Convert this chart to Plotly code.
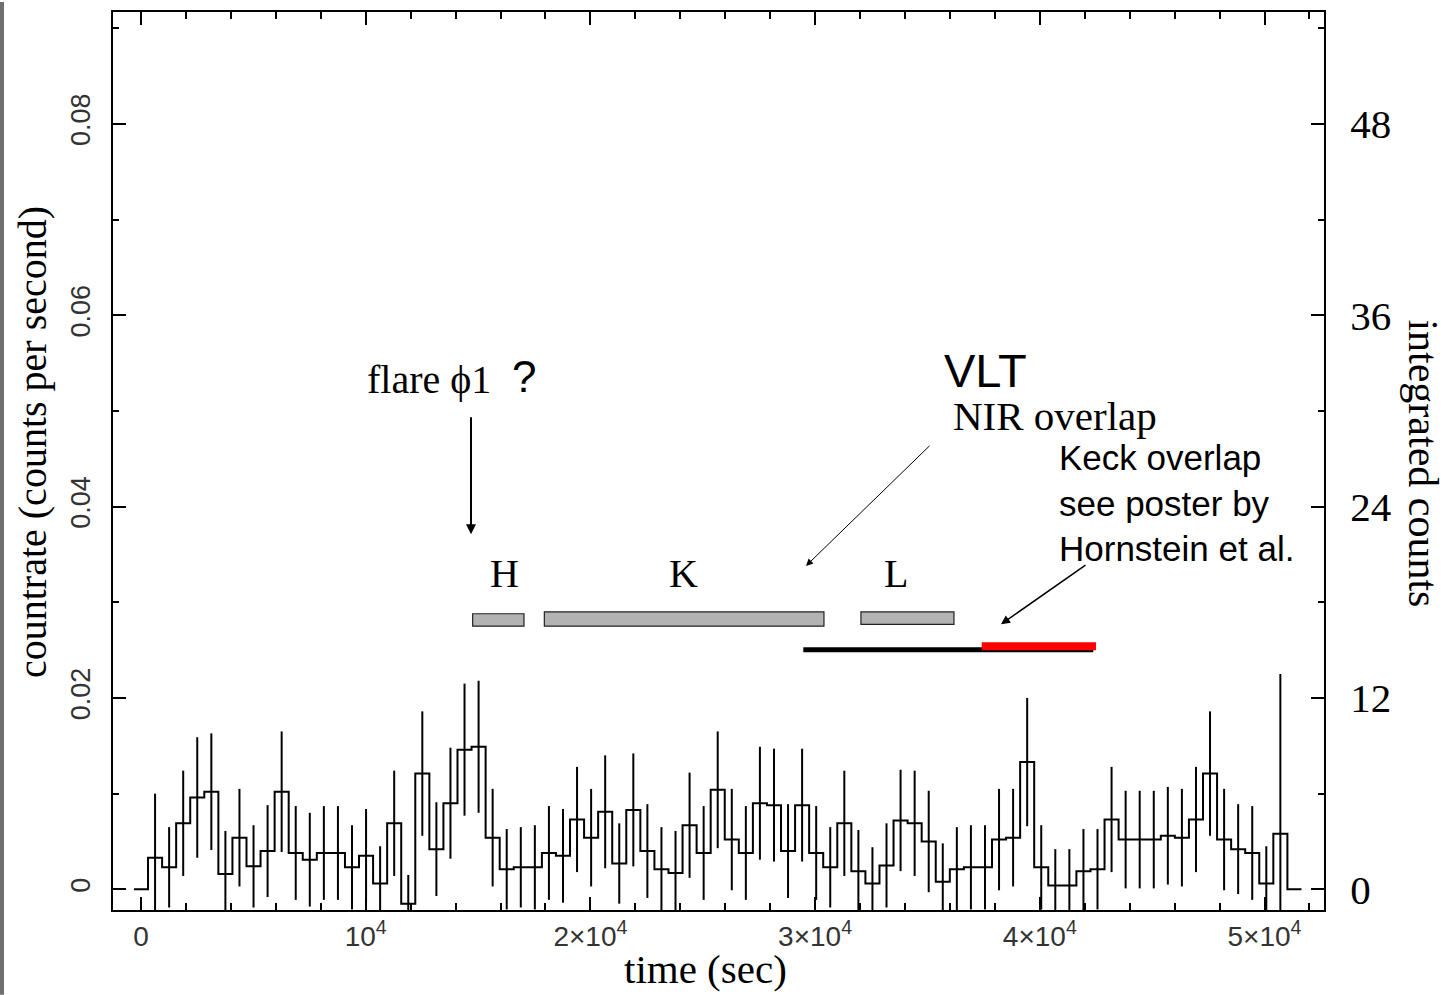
import numpy as np
import plotly.graph_objects as go

# ---- light curve: count rate per time bin (bin width 626 s) ----
bin_width = 626.0
countrate = [
    0.0000, 0.0033, 0.0023, 0.0069, 0.0096, 0.0102, 0.0016, 0.0054, 0.0024, 0.0040,
    0.0102, 0.0038, 0.0031, 0.0038, 0.0038, 0.0023, 0.0035, 0.0006, 0.0069, -0.0015,
    0.0121, 0.0042, 0.0090, 0.0146, 0.0149, 0.0054, 0.0021, 0.0023, 0.0023, 0.0038,
    0.0035, 0.0073, 0.0054, 0.0081, 0.0027, 0.0083, 0.0040, 0.0021, 0.0017, 0.0067,
    0.0038, 0.0104, 0.0052, 0.0038, 0.0090, 0.0088, 0.0040, 0.0088, 0.0038, 0.0023,
    0.0069, 0.0019, 0.0006, 0.0025, 0.0072, 0.0069, 0.0050, 0.0008, 0.0021, 0.0023,
    0.0023, 0.0052, 0.0054, 0.0133, 0.0023, 0.0004, 0.0004, 0.0019, 0.0021, 0.0073,
    0.0052, 0.0052, 0.0052, 0.0056, 0.0054, 0.0073, 0.0121, 0.0052, 0.0042, 0.0038,
    0.0006, 0.0058, 0.0000,
]
rate_err = [
    0.0, 0.0067, 0.0042, 0.0055, 0.0063, 0.0061, 0.0045, 0.0051, 0.0043, 0.0048,
    0.0063, 0.0049, 0.0049, 0.0049, 0.0049, 0.0044, 0.0049, 0.0039, 0.0055, 0.0030,
    0.0065, 0.0049, 0.0058, 0.0069, 0.0069, 0.0051, 0.0042, 0.0042, 0.0044, 0.0049,
    0.0049, 0.0055, 0.0051, 0.0059, 0.0042, 0.0059, 0.0049, 0.0044, 0.0044, 0.0055,
    0.0049, 0.0061, 0.0053, 0.0049, 0.0059, 0.0059, 0.0049, 0.0059, 0.0049, 0.0042,
    0.0055, 0.0043, 0.0038, 0.0044, 0.0053, 0.0055, 0.0053, 0.0040, 0.0044, 0.0044,
    0.0044, 0.0053, 0.0051, 0.0067, 0.0044, 0.0038, 0.0038, 0.0044, 0.0042, 0.0055,
    0.0051, 0.0051, 0.0051, 0.0051, 0.0051, 0.0055, 0.0065, 0.0053, 0.0047, 0.0049,
    0.0039, 0.0167, 0.0,
]
t_center = np.arange(len(countrate)) * bin_width

# ---- NIR observing windows (seconds) ----
band_names = ["H", "K", "L"]
band_start = [14760, 17950, 32040]
band_end = [17045, 30395, 36180]
band_low = [0.0275, 0.0275, 0.0277]
band_high = [0.0288, 0.0290, 0.0290]
band_label_x = [16180, 24140, 33620]

# ---- overlap intervals ----
vlt_overlap = [29475, 42380]
keck_overlap = [37415, 42500]

# ---- axis ticks ----
x_ticks = [0, 10000, 20000, 30000, 40000, 50000]
x_ticktext = ["0", "10<sup>4</sup>", "2×10<sup>4</sup>", "3×10<sup>4</sup>",
              "4×10<sup>4</sup>", "5×10<sup>4</sup>"]
y_ticks = [0, 0.02, 0.04, 0.06, 0.08]
y_ticktext = ["0", "0.02", "0.04", "0.06", "0.08"]
y2_ticks = [0, 12, 24, 36, 48]
counts_per_rate = 600.0  # integrated counts per unit count rate

x_range = [-1246, 52648]
y_range = [-0.00216, 0.09169]

SERIF = "Liberation Serif"
SANS = "Liberation Sans"

# step outline built from bin edges
t_arr = np.asarray(t_center)
edges = np.append(t_arr - bin_width / 2, t_arr[-1] + bin_width / 2)
step_y = list(countrate) + [countrate[-1]]

fig = go.Figure()

fig.add_trace(go.Scatter(
    x=edges, y=step_y, mode="lines", line=dict(color="black", width=2, shape="hv"),
    hoverinfo="skip",
))
fig.add_trace(go.Scatter(
    x=t_arr, y=countrate, mode="markers", marker=dict(size=2, opacity=0),
    error_y=dict(type="data", array=rate_err, visible=True, width=0,
                 thickness=2, color="black"),
    hoverinfo="skip",
))
# right-hand axis carrier
fig.add_trace(go.Scatter(
    x=[t_arr[0]], y=[0], yaxis="y2", mode="markers",
    marker=dict(size=1, opacity=0), hoverinfo="skip",
))

# observing windows as grey boxes
for x0, x1, y0, y1 in zip(band_start, band_end, band_low, band_high):
    fig.add_shape(type="rect", xref="x", yref="y", x0=x0, x1=x1, y0=y0, y1=y1,
                  fillcolor="#b3b3b3", line=dict(color="#222222", width=1.2))

# VLT (black) and Keck (red) overlap bars
fig.add_trace(go.Scatter(x=vlt_overlap, y=[0.02503, 0.02503], mode="lines",
                         line=dict(color="black", width=5), hoverinfo="skip"))
fig.add_trace(go.Scatter(x=keck_overlap, y=[0.02540, 0.02540], mode="lines",
                         line=dict(color="#ff0000", width=8), hoverinfo="skip"))

ann = []


def label(text, x, y, family, size, xanchor="center", yanchor="middle", **kw):
    ann.append(dict(text=text, x=x, y=y, xref="x", yref="y", showarrow=False,
                    font=dict(family=family, size=size, color="black"),
                    xanchor=xanchor, yanchor=yanchor, **kw))


def arrow(x_head, y_head, x_tail, y_tail, width, size=1.0):
    ann.append(dict(text="", x=x_head, y=y_head, ax=x_tail, ay=y_tail,
                    xref="x", yref="y", axref="x", ayref="y", showarrow=True,
                    arrowhead=2, arrowsize=size, arrowwidth=width,
                    arrowcolor="black", standoff=0, startstandoff=0))


label("flare ϕ1", 9970, 0.0533, SERIF, 40, xanchor="left")
label("?", 16420, 0.0536, SANS, 44, xanchor="left")
arrow(14686, 0.0371, 14686, 0.0495, 2.0, 1.0)

for name, lx in zip(band_names, band_label_x):
    label(name, lx, 0.0330, SERIF, 40)

label("VLT", 35650, 0.0542, SANS, 47, xanchor="left")
label("NIR overlap", 36050, 0.0495, SERIF, 41, xanchor="left")
arrow(29595, 0.0338, 35160, 0.0465, 1.0, 1.4)

label("Keck overlap<br>see poster by<br>Hornstein et al.", 40770, 0.0404, SANS, 35,
      xanchor="left", align="left")
arrow(38273, 0.0277, 42100, 0.0340, 1.5, 1.2)

# axis titles
ann.append(dict(text="time (sec)", x=0.4889, y=-0.066, xref="paper", yref="paper",
                showarrow=False, font=dict(family=SERIF, size=41, color="black"),
                xanchor="center", yanchor="middle"))
ann.append(dict(text="countrate (counts per second)", x=-0.067, y=0.521,
                xref="paper", yref="paper", showarrow=False, textangle=-90,
                font=dict(family=SERIF, size=40, color="black"),
                xanchor="center", yanchor="middle"))
ann.append(dict(text="integrated counts", x=1.082, y=0.497,
                xref="paper", yref="paper", showarrow=False, textangle=90,
                font=dict(family=SERIF, size=42, color="black"),
                xanchor="center", yanchor="middle"))

axis_common = dict(showgrid=False, zeroline=False, showline=True, linewidth=2,
                   linecolor="black", ticks="inside", ticklen=13, tickwidth=2,
                   tickcolor="black")

fig.update_layout(
    width=1452, height=995,
    margin=dict(l=113, r=128, t=10, b=85),
    plot_bgcolor="white", paper_bgcolor="white",
    showlegend=False,
    annotations=ann,
    xaxis=dict(
        range=x_range, tickmode="array", tickvals=x_ticks, ticktext=x_ticktext,
        mirror="ticks",
        tickfont=dict(family=SANS, size=28, color="#333333"),
        minor=dict(tickmode="linear", tick0=0, dtick=2000, ticks="inside",
                   ticklen=7, tickwidth=2, tickcolor="black", showgrid=False),
        **axis_common,
    ),
    yaxis=dict(
        range=y_range, tickmode="array", tickvals=y_ticks, ticktext=y_ticktext,
        tickangle=-90, ticklabelstandoff=10,
        tickfont=dict(family=SANS, size=27, color="#333333"),
        minor=dict(tickmode="linear", tick0=0, dtick=0.01, ticks="inside",
                   ticklen=6, tickwidth=2, tickcolor="black", showgrid=False),
        **axis_common,
    ),
    yaxis2=dict(
        overlaying="y", side="right",
        range=[y_range[0] * counts_per_rate, y_range[1] * counts_per_rate],
        tickmode="array", tickvals=y2_ticks,
        ticklabelstandoff=16,
        tickfont=dict(family=SERIF, size=41, color="black"),
        minor=dict(tickmode="linear", tick0=0, dtick=6, ticks="inside",
                   ticklen=6, tickwidth=2, tickcolor="black", showgrid=False),
        **axis_common,
    ),
)

# slide edge strip on the far left
fig.add_shape(type="rect", xref="paper", yref="paper",
              x0=-113 / 1211, x1=-109 / 1211, y0=-85 / 900, y1=910 / 900,
              fillcolor="#6e6e6e", line=dict(width=0), layer="above")

fig.write_html("out.html")
